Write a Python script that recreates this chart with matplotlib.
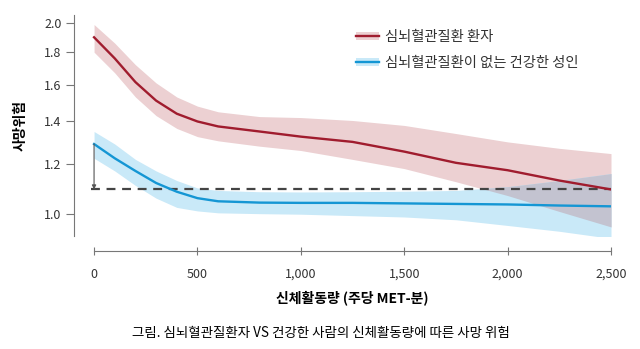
import numpy as np
import matplotlib
matplotlib.use("Agg")
import matplotlib.pyplot as plt
from matplotlib.patches import Patch
from matplotlib.lines import Line2D

plt.rcParams['font.family'] = ['Noto Sans CJK KR', 'DejaVu Sans']

# physical activity (MET-min / week)
met = [0, 100, 200, 300, 400, 500, 600, 800, 1000, 1250, 1500, 1750, 2000, 2250, 2500]

# patients with cardio-cerebrovascular disease
cvd_mid = [1.90, 1.76, 1.615, 1.51, 1.44, 1.40, 1.375, 1.35, 1.325, 1.30, 1.255, 1.205, 1.173, 1.13, 1.094]
cvd_hi = [1.99, 1.86, 1.72, 1.61, 1.53, 1.48, 1.45, 1.425, 1.42, 1.405, 1.38, 1.34, 1.30, 1.27, 1.246]
cvd_lo = [1.80, 1.67, 1.53, 1.43, 1.365, 1.325, 1.305, 1.28, 1.26, 1.22, 1.18, 1.125, 1.07, 1.01, 0.955]

# healthy adults
ok_mid = [1.29, 1.225, 1.17, 1.12, 1.085, 1.06, 1.048, 1.043, 1.042, 1.042, 1.040, 1.038, 1.036, 1.032, 1.029]
ok_hi = [1.35, 1.29, 1.22, 1.17, 1.13, 1.10, 1.09, 1.085, 1.084, 1.085, 1.087, 1.09, 1.105, 1.13, 1.159]
ok_lo = [1.225, 1.17, 1.11, 1.06, 1.025, 1.012, 1.005, 1.002, 1.0, 0.995, 0.99, 0.98, 0.96, 0.94, 0.916]

ref_risk = 1.094
yticks = [1.0, 1.2, 1.4, 1.6, 1.8, 2.0]
xticks = [0, 500, 1000, 1500, 2000, 2500]

red, red_band = '#a01c2e', '#ecd0d2'
blue, blue_band = '#1496d4', '#c9e9f8'
overlap = '#c3c3d0'

fig = plt.figure(figsize=(6.4, 3.49), dpi=100)
ax = fig.add_axes([74/640, 1-236/349, (611-74)/640, (236-15)/349])

x = np.array(met)
ax.fill_between(x, cvd_lo, cvd_hi, color=red_band, lw=0)
ax.fill_between(x, ok_lo, ok_hi, color=blue_band, lw=0)
lo = np.maximum(cvd_lo, ok_lo)
hi = np.minimum(cvd_hi, ok_hi)
ax.fill_between(x, lo, hi, where=lo < hi, interpolate=True, color=overlap, lw=0)

ax.hlines(ref_risk, -15, met[-1], colors='#444444', linestyles=(0, (4, 3)), lw=1.6)
ax.plot(met, cvd_mid, color=red, lw=1.7)
ax.plot(met, ok_mid, color=blue, lw=1.7)
ax.annotate('', xy=(met[0], ref_risk), xytext=(met[0], ok_mid[0]),
            arrowprops=dict(arrowstyle='-|>', color='#555555', lw=0.8,
                            mutation_scale=6, shrinkA=0, shrinkB=0))

ax.set_yscale('log')
ax.set_ylim(0.924, 2.06)
ax.set_xlim(-97, 2500)
ax.yaxis.set_minor_locator(matplotlib.ticker.NullLocator())
ax.set_yticks(yticks)
ax.set_yticklabels(['%.1f' % v for v in yticks])
ax.set_xticks(xticks)
ax.set_xticklabels(['{:,}'.format(v) for v in xticks])

for s in ['top', 'right']:
    ax.spines[s].set_visible(False)
ax.spines['left'].set_color('#777777')
ax.spines['bottom'].set_color('#777777')
ax.spines['bottom'].set_position(('outward', 11))
ax.spines['bottom'].set_bounds(0, 2500)
ax.tick_params(axis='y', direction='out', length=6, color='#777777',
               labelsize=9, labelcolor='#333333', pad=3)
ax.tick_params(axis='x', direction='inout', length=6, color='#777777',
               labelsize=9, labelcolor='#333333', pad=9)
ax.set_facecolor('none')

ax.set_ylabel('사망위험', fontsize=10, fontweight='bold', labelpad=12)
fig.text(352/640, 1-298/349, '신체활동량 (주당 MET-분)', ha='center', va='center',
         fontsize=10, fontweight='bold')
fig.text(321/640, 1-333/349, '그림. 심뇌혈관질환자 VS 건강한 사람의 신체활동량에 따른 사망 위험',
         ha='center', va='center', fontsize=9.7)

handles = [(Patch(fc=red_band, ec='none'), Line2D([], [], color=red, lw=1.7)),
           (Patch(fc=blue_band, ec='none'), Line2D([], [], color=blue, lw=1.7))]
labels = ['심뇌혈관질환 환자', '심뇌혈관질환이 없는 건강한 성인']
fig.legend(handles, labels, loc='upper left', bbox_to_anchor=(343/640, 1-17/349),
           frameon=False, fontsize=10.3, labelcolor='#333333', handlelength=1.6,
           handleheight=0.5, handletextpad=0.45, labelspacing=0.85)

fig.savefig('out.png', dpi=100)
